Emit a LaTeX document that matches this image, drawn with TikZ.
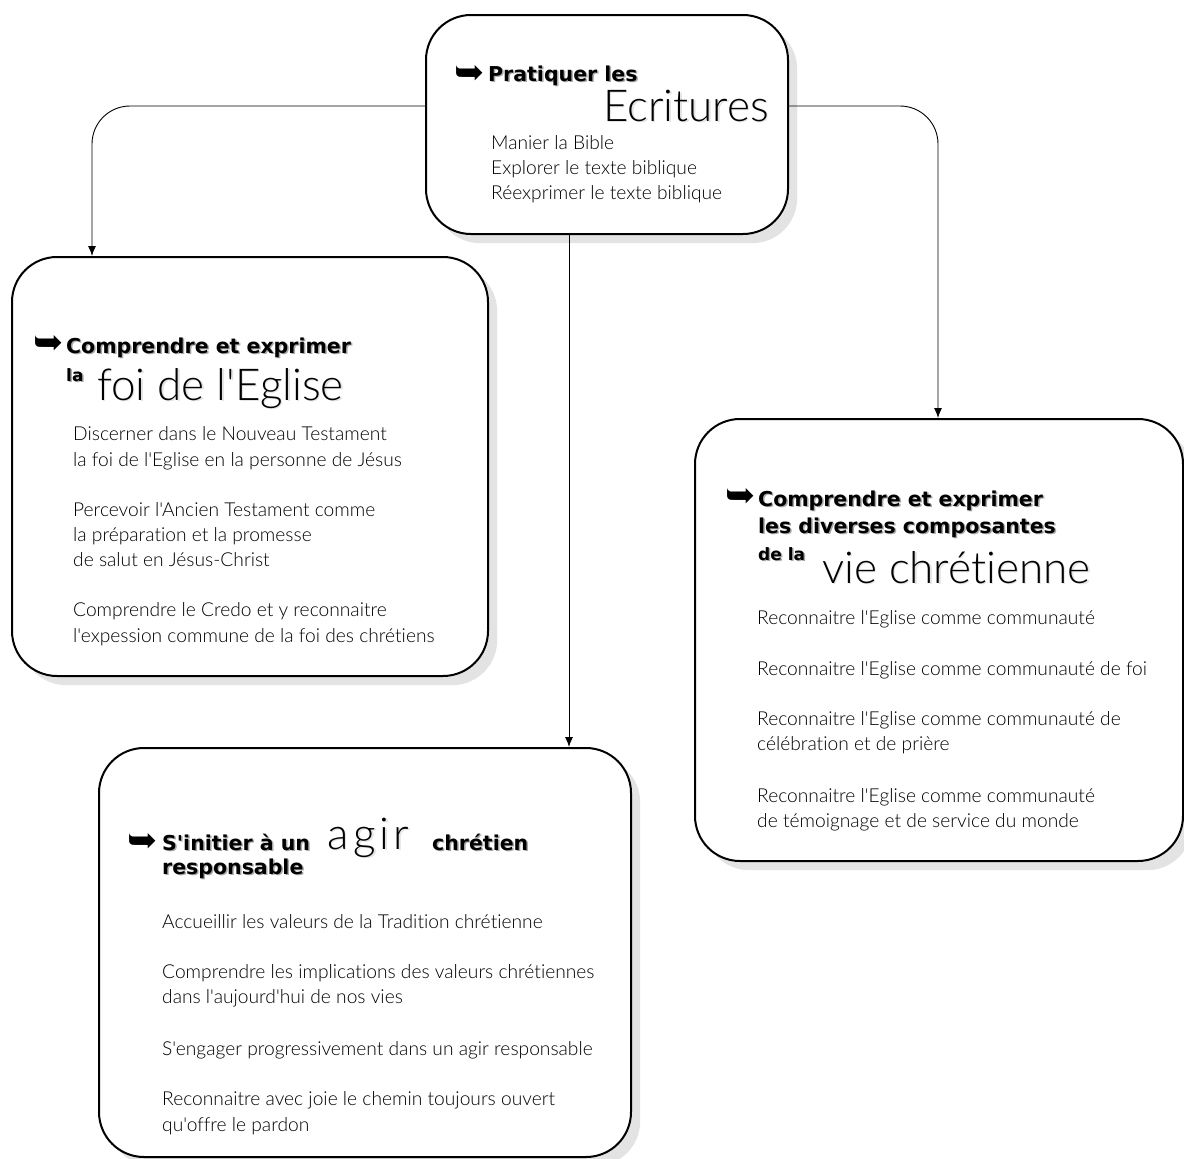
\documentclass[tikz,border=0pt]{standalone}
\usepackage{fontspec}
\newfontfamily\bodyfont{Lato Light}[Ligatures=NoCommon]
\newfontfamily\headfont{DejaVu Sans}
\newfontfamily\symfont{DejaVu Sans}
\usetikzlibrary{arrows.meta}
\definecolor{boxshade}{HTML}{E3E3E3}
\definecolor{txtshade}{HTML}{A8A8A8}
\newcommand\shd[1]{\leavevmode\rlap{\kern1.5pt\raisebox{-1.5pt}{\color{txtshade}#1}}#1}
\newcommand\shdb[1]{\leavevmode\rlap{\kern1.6pt\raisebox{-1.6pt}{\color{boxshade}#1}}#1}
\tikzset{
  panel/.style={draw=black, line width=2pt, rounded corners=45pt, fill=white, anchor=north west, inner sep=0pt},
  panelshadow/.style={draw=none, fill=boxshade, rounded corners=45pt, anchor=north west, inner sep=0pt},
  conn/.style={draw=black, line width=0.9pt, rounded corners=38pt, -{Latex[length=10pt,width=8pt]}},
  item/.style={anchor=base west, inner sep=0pt, font=\bodyfont\fontsize{19.2}{22}\selectfont},
  head/.style={anchor=base west, inner sep=0pt, font=\headfont\bfseries\fontsize{20.5}{24}\selectfont},
  smallhead/.style={anchor=base west, inner sep=0pt, font=\headfont\bfseries\fontsize{17}{20}\selectfont},
  big/.style={anchor=base west, inner sep=0pt, font=\bodyfont\fontsize{44}{48}\selectfont},
  pointer/.style={anchor=west, inner sep=0pt, font=\symfont\fontsize{36}{38}\selectfont},
}
\begin{document}
\begin{tikzpicture}[x=1pt,y=-1pt]
\useasboundingbox (0,0) rectangle (1184,1159);
% shadows
\node[panelshadow, minimum width=362pt, minimum height=219pt] (topsh) at (435,24) {};
\node[panelshadow, minimum width=476pt, minimum height=419pt] (leftsh) at (21,266) {};
\node[panelshadow, minimum width=488pt, minimum height=442pt] (rightsh) at (704,428) {};
\node[panelshadow, minimum width=532pt, minimum height=409pt] (botsh) at (108,757) {};
% panels
\node[panel, minimum width=362pt, minimum height=219pt] (top) at (425,14) {};
\node[panel, minimum width=476pt, minimum height=419pt] (leftbox) at (11,256) {};
\node[panel, minimum width=488pt, minimum height=442pt] (rightbox) at (694,418) {};
\node[panel, minimum width=532pt, minimum height=409pt] (botbox) at (98,747) {};
% connectors
\draw[conn] (top.west |- 0,106) -| (leftbox.north -| 92,0);
\draw[conn] (top.east |- 0,106) -| (rightbox.north -| 938,0);
\draw[conn, rounded corners=0pt] (top.south -| 569,0) -- (botbox.north -| 569,0);
% top panel text
\node[pointer] (ptop) at (454,75) {➥};
\node[head] (htop) at (488,81) {\shd{Pratiquer les}};
\node[big] (ttop) at (603,121) {\shdb{Ecritures}};
\node[item] (a1) at (491,149) {Manier la Bible};
\node[item] (a2) at (491,174) {Explorer le texte biblique};
\node[item] (a3) at (491,199) {Réexprimer le texte biblique};
% left panel text
\node[pointer] (pleft) at (33,345) {➥};
\node[head] (hleft) at (66,353) {\shd{Comprendre et exprimer}};
\node[smallhead] (sleft) at (66,381) {\shd{la}};
\node[big] (tleft) at (97,400) {\shdb{foi de l'Eglise}};
\node[item] (b1) at (73,440) {Discerner dans le Nouveau Testament};
\node[item] (b2) at (73,466) {la foi de l'Eglise en la personne de Jésus};
\node[item] (b3) at (73,516) {Percevoir l'Ancien Testament comme};
\node[item] (b4) at (73,541) {la préparation et la promesse};
\node[item] (b5) at (73,566) {de salut en Jésus-Christ};
\node[item] (b6) at (73,616) {Comprendre le Credo et y reconnaitre};
\node[item] (b7) at (73,642) {l'expession commune de la foi des chrétiens};
% right panel text
\node[pointer] (pright) at (725,498) {➥};
\node[head] (hright1) at (758,506) {\shd{Comprendre et exprimer}};
\node[head] (hright2) at (758,533) {\shd{les diverses composantes}};
\node[smallhead] (sright) at (758,560) {\shd{de la}};
\node[big] (tright) at (822,583) {\shdb{vie chrétienne}};
\node[item] (c1) at (757,624) {Reconnaitre l'Eglise comme communauté};
\node[item] (c2) at (757,675) {Reconnaitre l'Eglise comme communauté de foi};
\node[item] (c3) at (757,725) {Reconnaitre l'Eglise comme communauté de};
\node[item] (c4) at (757,750) {célébration et de prière};
\node[item] (c5) at (757,802) {Reconnaitre l'Eglise comme communauté};
\node[item] (c6) at (757,827) {de témoignage et de service du monde};
% bottom panel text
\node[pointer] (pbot) at (127,843) {➥};
\node[head] (hbot1) at (162,850) {\shd{S'initier à un}};
\node[big] (tbot) at (327,849) {\shdb{a\kern5pt g\kern4pt i\kern4pt r}};
\node[head] (hbot2) at (432,850) {\shd{chrétien}};
\node[head] (hbot3) at (162,874) {\shd{responsable}};
\node[item] (d1) at (162,928) {Accueillir les valeurs de la Tradition chrétienne};
\node[item] (d2) at (162,978) {Comprendre les implications des valeurs chrétiennes};
\node[item] (d3) at (162,1003) {dans l'aujourd'hui de nos vies};
\node[item] (d4) at (162,1055) {S'engager progressivement dans un agir responsable};
\node[item] (d5) at (162,1105) {Reconnaitre avec joie le chemin toujours ouvert};
\node[item] (d6) at (162,1131) {qu'offre le pardon};
\end{tikzpicture}
\end{document}
